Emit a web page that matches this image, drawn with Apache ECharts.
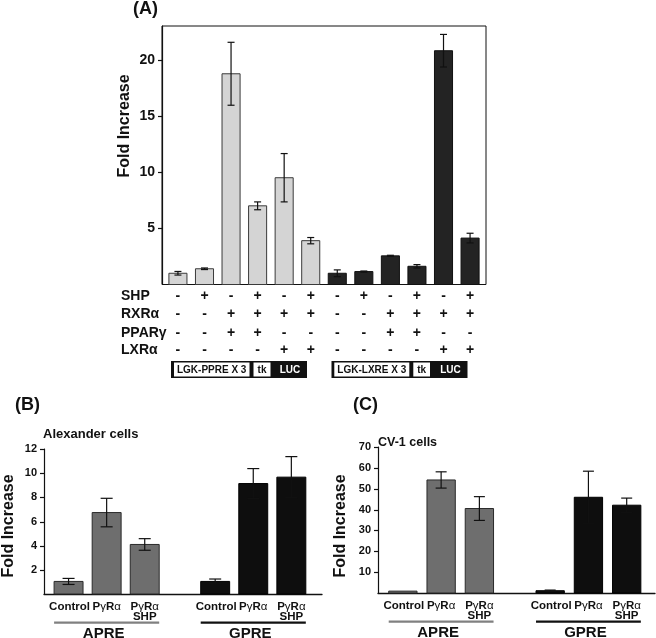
<!DOCTYPE html>
<html><head><meta charset="utf-8">
<script src="https://cdn.jsdelivr.net/npm/echarts@6/dist/echarts.min.js"></script>
<style>html,body{margin:0;padding:0;background:#fff}#c{width:656px;height:638px}</style>
</head><body><div id="c"></div>
<script>
// ---------- Panel A data ----------
const aValues = [1.0, 1.4, 18.75, 7.0, 9.5, 3.9, 1.0, 1.15, 2.55, 1.62, 20.8, 4.13];
const aErrors = [0.16, 0.07, 2.8, 0.35, 2.15, 0.28, 0.3, 0.05, 0.05, 0.15, 1.45, 0.43];
const aGroup  = [0, 0, 0, 0, 0, 0, 1, 1, 1, 1, 1, 1];
const rowSHP  = ['-', '+', '-', '+', '-', '+', '-', '+', '-', '+', '-', '+'];
const rowRXR  = ['-', '-', '+', '+', '+', '+', '-', '-', '+', '+', '+', '+'];
const rowPPAR = ['-', '-', '+', '+', '-', '-', '-', '-', '+', '+', '-', '-'];
const rowLXR  = ['-', '-', '-', '-', '+', '+', '-', '-', '-', '-', '+', '+'];
const rowLabels = ['SHP', 'RXRα', 'PPARγ', 'LXRα'];
const aTicks = [5, 10, 15, 20];
// ---------- Panels B / C data ----------
const groups = ['APRE', 'GPRE'];
const conditions = ['Control', 'PγRα', 'PγRα SHP'];
const alexValues = [1.04, 6.74, 4.1, 1.04, 9.14, 9.67];
const alexErrors = [0.25, 1.18, 0.48, 0.2, 1.24, 1.7];
const alexTicks  = [2, 4, 6, 8, 10, 12];
const cv1Values  = [0.9, 54.2, 40.5, 1.1, 45.9, 42.1];
const cv1Errors  = [0.0, 3.9, 5.7, 0.3, 12.5, 3.4];
const cv1Ticks   = [10, 20, 30, 40, 50, 60, 70];

const FONT = '"Liberation Sans", Arial, Helvetica, sans-serif';
const chart = echarts.init(document.getElementById('c'), null, {renderer: 'canvas'});

const X_EXT = [[-0.6, 11.6], [-0.645, 6.655], [-0.65, 6.59]];
const Y_MAX = [23, 12, 70];

function barSeries(gridIdx, data, wUnits, fills, strokes, capHalf) {
  return {
    type: 'custom', xAxisIndex: gridIdx, yAxisIndex: gridIdx, clip: false, z: 3,
    data: data,
    renderItem: function (params, api) {
      const x = api.value(0), v = api.value(1), e = api.value(2), g = api.value(3);
      const p0 = api.coord([x - wUnits / 2, 0]);
      const p1 = api.coord([x + wUnits / 2, v]);
      const children = [{
        type: 'rect',
        shape: {x: p0[0], y: p1[1], width: p1[0] - p0[0], height: p0[1] - p1[1]},
        style: {fill: fills[g], stroke: strokes[g], lineWidth: 1}
      }];
      if (e > 0) {
        const t = api.coord([x, v + e]), b = api.coord([x, Math.max(0, v - e)]);
        const ls = {stroke: '#111', lineWidth: 1.2};
        children.push({type: 'line', shape: {x1: t[0], y1: t[1], x2: b[0], y2: b[1]}, style: ls});
        children.push({type: 'line', shape: {x1: t[0] - capHalf, y1: t[1], x2: t[0] + capHalf, y2: t[1]}, style: ls});
        children.push({type: 'line', shape: {x1: b[0] - capHalf, y1: b[1], x2: b[0] + capHalf, y2: b[1]}, style: ls});
      }
      return {type: 'group', children: children};
    }
  };
}

// A data
const aData = aValues.map((v, i) => [i, v, aErrors[i], aGroup[i]]);
const signRows = [rowSHP, rowRXR, rowPPAR, rowLXR];
const signOffsets = [12, 30, 49, 66];
const signSeries = {
  type: 'custom', xAxisIndex: 0, yAxisIndex: 0, clip: false, silent: true,
  data: aValues.map((v, i) => [i, 0]),
  renderItem: function (params, api) {
    const i = api.value(0);
    const p = api.coord([i, 0]);
    return {type: 'group', children: signRows.map((row, r) => ({
      type: 'text', x: p[0], y: p[1] + signOffsets[r],
      style: {text: row[i], font: 'bold 14px ' + FONT, fill: '#111', align: 'center', verticalAlign: 'middle'}
    }))};
  }
};

// B/C data
const GROUP_STEP = 3.85;
function bcData(vals, errs) {
  return vals.map((v, i) => [Math.floor(i / 3) * GROUP_STEP + (i % 3), v, errs[i], Math.floor(i / 3)]);
}
const richLbl = {
  b: {fontFamily: FONT, fontWeight: 'bold', fontSize: 11.5, fill: '#111', color: '#111'},
  g: {fontFamily: FONT, fontWeight: 'normal', fontSize: 11.5, fill: '#111', color: '#111'}
};
function fmtCond(s) {
  return s.split('').map(ch => /[α-ω]/.test(ch) ? '{g|' + ch + '}' : '{b|' + ch + '}').join('');
}
function labelSeries(gridIdx, wUnits) {
  const data = [];
  groups.forEach((g, gi) => conditions.forEach((c, ci) => data.push([gi * GROUP_STEP + ci, 0, ci, gi])));
  return {
    type: 'custom', xAxisIndex: gridIdx, yAxisIndex: gridIdx, clip: false, silent: true,
    data: data,
    renderItem: function (params, api) {
      const x = api.value(0), ci = api.value(2), gi = api.value(3);
      const p = api.coord([x, 0]);
      const parts = conditions[ci].split(' ');
      const children = [];
      parts.forEach((part, k) => children.push({
        type: 'text', x: p[0] + (ci === 0 ? 1 : 0), y: p[1] + 12.5 + k * 10,
        style: {text: fmtCond(part), rich: richLbl, font: 'bold 11.5px ' + FONT, fill: '#111', align: 'center', verticalAlign: 'middle'}
      }));
      if (ci === 1) {
        const l = api.coord([x - 1 - wUnits / 2, 0]), r = api.coord([x + 1 + wUnits / 2, 0]);
        children.push({type: 'line', shape: {x1: l[0], y1: p[1] + 28.7, x2: r[0], y2: p[1] + 28.7},
          style: {stroke: gi === 0 ? '#808080' : '#111', lineWidth: 2.2}});
        children.push({type: 'text', x: p[0] - 3, y: p[1] + 40,
          style: {text: groups[gi], font: 'bold 15px ' + FONT, fill: '#111', align: 'center', verticalAlign: 'middle'}});
      }
      return {type: 'group', children: children};
    }
  };
}

function yAxisCfg(gridIdx, interval, fontSize, ticks) {
  return {
    type: 'value', gridIndex: gridIdx, min: 0, max: Y_MAX[gridIdx], interval: interval,
    axisLine: {show: true, onZero: false, lineStyle: {color: '#111', width: 1}},
    axisTick: {show: false},
    axisLabel: {fontFamily: FONT, fontWeight: 'bold', fontSize: fontSize, color: '#111', margin: 7,
      formatter: v => ticks.indexOf(v) >= 0 ? String(v) : ''},
    splitLine: {show: false}
  };
}
function xAxisCfg(gridIdx) {
  return {type: 'value', gridIndex: gridIdx, min: X_EXT[gridIdx][0], max: X_EXT[gridIdx][1],
    axisLine: {show: gridIdx > 0, onZero: false, lineStyle: {color: '#111', width: 1.3}},
    axisTick: {show: false}, axisLabel: {show: false}, splitLine: {show: false}};
}

const baseGraphic = [
  {type: 'text', left: 133, top: 0, style: {text: '(A)', font: 'bold 18px ' + FONT, fill: '#111'}},
  {type: 'text', x: 125, y: 126, rotation: Math.PI / 2,
    style: {text: 'Fold Increase', font: 'bold 16px ' + FONT, fill: '#111', align: 'center', verticalAlign: 'middle'}},
  ...rowLabels.map((t, r) => ({type: 'text', x: 121, y: 284.5 + signOffsets[r],
    style: {text: t, font: 'bold 14px ' + FONT, fill: '#111', align: 'left', verticalAlign: 'middle'}})),
  {type: 'rect', shape: {x: 171, y: 361, width: 136, height: 17}, style: {fill: '#111'}},
  {type: 'rect', shape: {x: 174, y: 362.5, width: 75.5, height: 14}, style: {fill: '#fff'}},
  {type: 'rect', shape: {x: 253.5, y: 362.5, width: 17, height: 14}, style: {fill: '#fff'}},
  {type: 'text', x: 211.7, y: 370, style: {text: 'LGK-PPRE X 3', font: 'bold 10px ' + FONT, fill: '#111', align: 'center', verticalAlign: 'middle'}},
  {type: 'text', x: 262, y: 370, style: {text: 'tk', font: 'bold 10px ' + FONT, fill: '#111', align: 'center', verticalAlign: 'middle'}},
  {type: 'text', x: 290, y: 370, style: {text: 'LUC', font: 'bold 10px ' + FONT, fill: '#fff', align: 'center', verticalAlign: 'middle'}},
  {type: 'rect', shape: {x: 331.5, y: 361, width: 136, height: 17}, style: {fill: '#111'}},
  {type: 'rect', shape: {x: 334.3, y: 362.5, width: 75, height: 14}, style: {fill: '#fff'}},
  {type: 'rect', shape: {x: 413.3, y: 362.5, width: 16.7, height: 14}, style: {fill: '#fff'}},
  {type: 'text', x: 371.8, y: 370, style: {text: 'LGK-LXRE X 3', font: 'bold 10px ' + FONT, fill: '#111', align: 'center', verticalAlign: 'middle'}},
  {type: 'text', x: 421.7, y: 370, style: {text: 'tk', font: 'bold 10px ' + FONT, fill: '#111', align: 'center', verticalAlign: 'middle'}},
  {type: 'text', x: 450.5, y: 370, style: {text: 'LUC', font: 'bold 10px ' + FONT, fill: '#fff', align: 'center', verticalAlign: 'middle'}},
  {type: 'text', left: 15, top: 396, style: {text: '(B)', font: 'bold 18px ' + FONT, fill: '#111'}},
  {type: 'text', left: 43, top: 428, style: {text: 'Alexander cells', font: 'bold 13px ' + FONT, fill: '#111'}},
  {type: 'text', x: 9, y: 526, rotation: Math.PI / 2,
    style: {text: 'Fold Increase', font: 'bold 16px ' + FONT, fill: '#111', align: 'center', verticalAlign: 'middle'}},
  {type: 'text', left: 353, top: 396, style: {text: '(C)', font: 'bold 18px ' + FONT, fill: '#111'}},
  {type: 'text', left: 378, top: 436, style: {text: 'CV-1 cells', font: 'bold 12.5px ' + FONT, fill: '#111'}},
  {type: 'text', x: 341, y: 526, rotation: Math.PI / 2,
    style: {text: 'Fold Increase', font: 'bold 16px ' + FONT, fill: '#111', align: 'center', verticalAlign: 'middle'}}
];

function buildOption(extraGraphic) {
  return {
    animation: false,
    backgroundColor: '#fff',
    grid: [
      {left: 162, top: 26, width: 324, height: 258.5, show: true, borderColor: '#111', borderWidth: 1},
      {left: 44, top: 449, width: 278, height: 145},
      {left: 378, top: 447, width: 277, height: 146}
    ],
    xAxis: [xAxisCfg(0), xAxisCfg(1), xAxisCfg(2)],
    yAxis: [
      yAxisCfg(0, 5, 14, aTicks),
      yAxisCfg(1, 2, 11, alexTicks),
      yAxisCfg(2, 10, 11, cv1Ticks)
    ],
    series: [
      barSeries(0, aData, 0.68, ['#d4d4d4', '#232323'], ['#3a3a3a', '#111'], 3.5),
      signSeries,
      barSeries(1, bcData(alexValues, alexErrors), 0.76, ['#6e6e6e', '#0e0e0e'], ['#2a2a2a', '#000'], 6),
      labelSeries(1, 0.76),
      barSeries(2, bcData(cv1Values, cv1Errors), 0.74, ['#6e6e6e', '#0e0e0e'], ['#2a2a2a', '#000'], 5.5),
      labelSeries(2, 0.74)
    ],
    graphic: baseGraphic.concat(extraGraphic)
  };
}

chart.setOption(buildOption([]));

// y-axis lines and outward ticks, positioned through each grid's own scales
function axisGraphics(gridIdx, ticks) {
  const xmin = X_EXT[gridIdx][0];
  const b = chart.convertToPixel({gridIndex: gridIdx}, [xmin, 0]);
  const t = chart.convertToPixel({gridIndex: gridIdx}, [xmin, Y_MAX[gridIdx]]);
  const xl = Math.round(b[0]) + 0.5;
  const ls = {stroke: '#111', lineWidth: 1.2};
  const els = [{type: 'line', z: 100, shape: {x1: xl, y1: t[1], x2: xl, y2: b[1]}, style: ls}];
  ticks.forEach(v => {
    const p = chart.convertToPixel({gridIndex: gridIdx}, [xmin, v]);
    const yy = Math.round(p[1]) + 0.5;
    els.push({type: 'line', z: 100, shape: {x1: xl - 4.5, y1: yy, x2: xl, y2: yy}, style: ls});
  });
  return els;
}
const extra = [].concat(axisGraphics(0, aTicks), axisGraphics(1, alexTicks), axisGraphics(2, cv1Ticks));
chart.setOption(buildOption(extra), true);
</script>
</body></html>
